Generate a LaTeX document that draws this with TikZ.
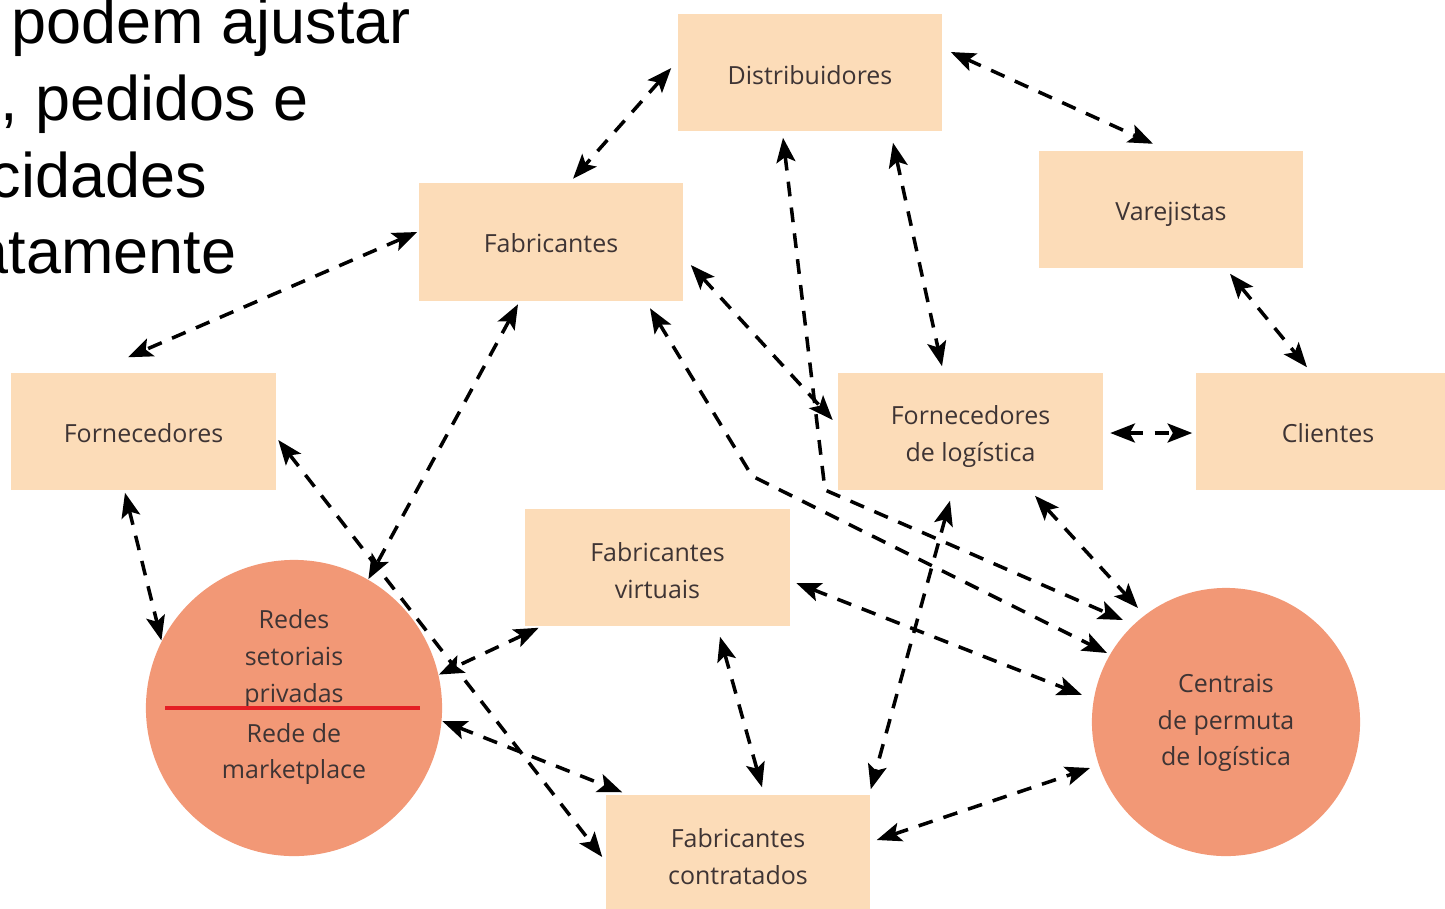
\documentclass[tikz,border=0pt]{standalone}
\usepackage{fontspec}
\setmainfont{Open Sans}
\newfontfamily\slidefont{Liberation Sans}
\usetikzlibrary{arrows.meta,calc}
\definecolor{boxfill}{RGB}{252,220,184}
\definecolor{hubfill}{RGB}{242,152,118}
\definecolor{txtgray}{RGB}{62,52,52}
\definecolor{cutred}{RGB}{228,30,36}
\begin{document}
\begin{tikzpicture}[x=0.01cm,y=-0.01cm,
    box/.style={fill=boxfill,minimum width=2.64cm,minimum height=1.17cm,inner sep=0pt},
    hub/.style={circle,fill=hubfill,inner sep=0pt},
    txt/.style={text=txtgray,align=center,inner sep=0pt,font=\fontsize{7.1}{10.4}\selectfont},
    link/.style={dash pattern=on 4.2pt off 3.2pt,line width=1pt,
      {Stealth[length=7pt,width=5.4pt,inset=1.5pt]}-{Stealth[length=7pt,width=5.4pt,inset=1.5pt]}},
    slide/.style={anchor=base west,inner sep=0pt,font=\slidefont\fontsize{17.9}{20}\selectfont}]
    \useasboundingbox (0,0) rectangle (1445,908);
    \clip (0,0) rectangle (1445,908);

    % Slide text behind the figure
    \node[slide] (s1) at (11,43) {podem ajustar};
    \node[slide] (s2) at (0,120) {, pedidos e};
    \node[slide] (s3) at (-11,197) {cidades};
    \node[slide] (s4) at (-27,273) {atamente};

    % Draw boxes
    \node[box] (dist) at (810,72.5) {};
    \node[box] (varej) at (1171,209.5) {};
    \node[box] (fab) at (551,242) {};
    \node[box] (forn) at (143.5,431.5) {};
    \node[box] (flog) at (970.5,431.5) {};
    \node[box] (cli) at (1328,431.5) {};
    \node[box] (fabv) at (657.5,567.5) {};
    \node[box] (fabc) at (738,853.5) {};
    \node[txt] (distlbl) at ($(dist)+(0,3)$) {Distribuidores};
    \node[txt] (vareblbl) at ($(varej)+(0,5)$) {Varejistas};
    \node[txt] (fablbl) at ($(fab)+(0,1)$) {Fabricantes};
    \node[txt] (fornlbl) at ($(forn)+(0,2)$) {Fornecedores};
    \node[txt] (floglbl) at ($(flog)+(0,5)$) {Fornecedores\\de logística};
    \node[txt] (clilbl) at ($(cli)+(0,2)$) {Clientes};
    \node[txt] (fabvlbl) at ($(fabv)+(0,3)$) {Fabricantes\\virtuais};
    \node[txt] (fabclbl) at ($(fabc)+(0,3)$) {Fabricantes\\contratados};

    % Draw circles
    \node[hub,minimum size=2.96cm] (redes) at (294,708) {};
    \node[hub,minimum size=2.68cm] (cent) at (1226,722) {};
    \node[txt] (redesup) at (294,659) {Redes\\setoriais\\privadas};
    \node[txt] (redesdn) at (294,754) {Rede de\\marketplace};
    \node[txt] (centtxt) at (1226,723) {Centrais\\de permuta\\de logística};
    \draw[cutred,line width=0.9pt] ($(redes.west)+(20,0)$) -- ($(redes.east)+(-23,0)$);

    % Draw links
    \draw[link] ($(dist.west)+(-6,-4.5)$) -- ($(fab.north)+(22,-4)$);
    \draw[link] ($(dist.east)+(8,-20.5)$) -- ($(varej.north)+(-18,-6.5)$);
    \draw[link] ($(varej.south)+(59,5)$) -- ($(cli.north)+(-21,-5)$);
    \draw[link] ($(fab.west)+(-1,-10)$) -- ($(forn.north)+(-15.5,-15)$);
    \draw[link] ($(fab.south)+(-33,3)$) -- (redes.60);
    \draw[link] ($(forn.south)+(-18.5,2)$) -- (redes.153);
    \draw[link] ($(forn.east)+(2,8.5)$) -- ($(fabc.west)+(-3,3.5)$);
    \draw[link] ($(fabv.south west)+(14,1)$) -- (redes.13);
    \draw[link] (redes.-5) -- ($(fabc.north west)+(17,-2)$);
    \draw[link] ($(fabv.south)+(62.5,10)$) -- ($(fabc.north)+(24,-7)$);
    \draw[link] ($(fabv.east)+(6,15.5)$) -- ($(cent)+(-144,-27)$);
    \draw[link] ($(fabc.east)+(6,-13.5)$) -- ($(cent)+(-136,46)$);
    \draw[link] ($(flog.south)+(-20.5,10)$) -- ($(fabc.north east)+(0,-5)$);
    \draw[link] ($(flog.south)+(64.5,5)$) -- ($(cent)+(-88,-114)$);
    \draw[link] ($(flog.east)+(7,1.5)$) -- ($(cli.west)+(-3,1.5)$);
    \draw[link] ($(dist.south)+(83,11)$) -- ($(flog.north)+(-28.5,-6)$);
    \draw[link] ($(fab.east)+(7,23)$) -- ($(flog.west)+(-5,-11.5)$);
    \draw[link] ($(dist.south)+(-27,6)$) -- (825,490) -- ($(cent)+(-103,-102)$);
    \draw[link] ($(fab.south)+(99,7)$) -- (752,476) -- ($(cent)+(-119,-69)$);
\end{tikzpicture}
\end{document}
